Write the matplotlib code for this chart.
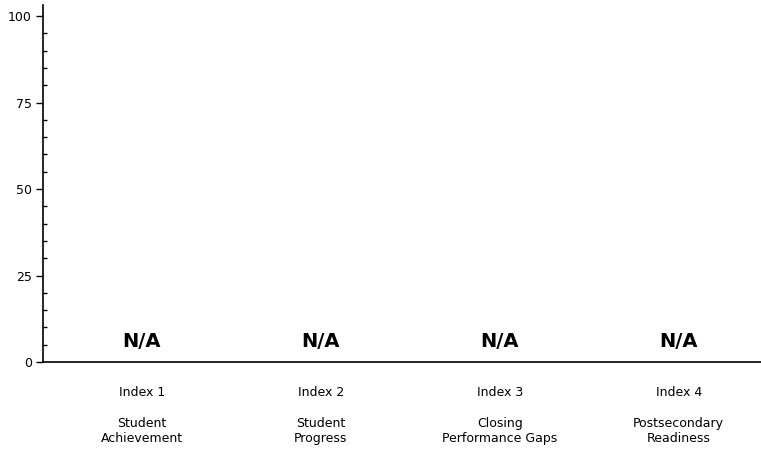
import numpy as np
import matplotlib
matplotlib.use("Agg")
import matplotlib.pyplot as plt
from matplotlib.ticker import MultipleLocator

# index data (no scores reported)
index_names = ["Index 1", "Index 2", "Index 3", "Index 4"]
index_titles = ["Student\nAchievement", "Student\nProgress",
                "Closing\nPerformance Gaps", "Postsecondary\nReadiness"]
scores = [np.nan, np.nan, np.nan, np.nan]
missing_label = "N/A"
y_ticks = [0, 25, 50, 75, 100]

fig = plt.figure(figsize=(7.61, 4.51), dpi=100)
ax = fig.add_axes([43/761, 1 - 362/451, 1 - 43/761, 357/451])

x = np.arange(len(index_names))
heights = [0 if np.isnan(s) else s for s in scores]
ax.bar(x, heights, width=0.5, color="#4f81bd")
for xi, s in zip(x, scores):
    if np.isnan(s):
        ax.text(xi, 6, missing_label, ha="center", va="center",
                fontsize=14, fontweight="bold", color="black")

ax.set_xlim(-0.553, 3.46)
ax.set_ylim(0, 103.2)
ax.set_yticks(y_ticks)
ax.yaxis.set_minor_locator(MultipleLocator(5))
ax.set_xticks(x)
ax.set_xticklabels([n + "\n\n" + t for n, t in zip(index_names, index_titles)],
                   fontsize=9, linespacing=1.25)
ax.tick_params(axis="x", length=0, pad=17)
ax.tick_params(axis="y", which="major", length=5, width=1, labelsize=9, pad=3)
ax.tick_params(axis="y", which="minor", length=3, width=1, direction="in")

for side in ["top", "right"]:
    ax.spines[side].set_visible(False)
ax.spines["left"].set_linewidth(1.2)
ax.spines["bottom"].set_linewidth(1.2)

fig.savefig("out.png", dpi=100)
